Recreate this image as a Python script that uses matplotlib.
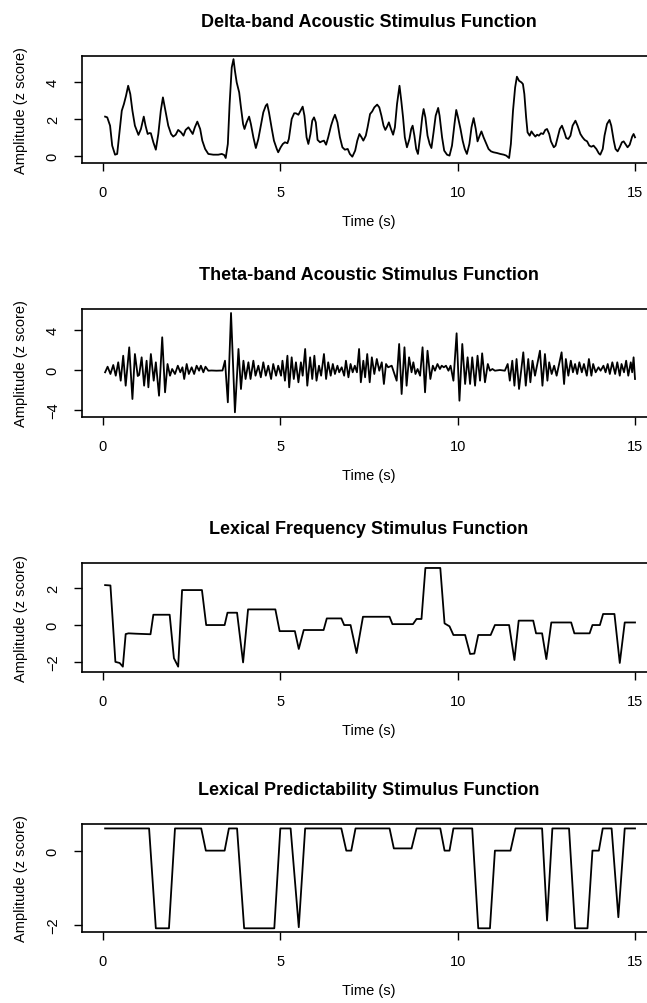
import numpy as np
import matplotlib
matplotlib.use("Agg")
import matplotlib.pyplot as plt

plt.rcParams['font.family'] = ['Liberation Sans', 'DejaVu Sans']

# values (time in s, amplitude in z score)
delta_pts = [(0.06, 2.13), (0.12, 2.09), (0.20, 1.64), (0.26, 0.56), (0.34, 0.07), (0.40, 0.11),
             (0.45, 1.01), (0.53, 2.45), (0.59, 2.81), (0.65, 3.26), (0.71, 3.80), (0.77, 3.35),
             (0.83, 2.45), (0.90, 1.64), (1.00, 1.14), (1.07, 1.46), (1.15, 2.13), (1.20, 1.64),
             (1.26, 1.19), (1.31, 1.24), (1.35, 1.23), (1.42, 0.74), (1.49, 0.34), (1.56, 1.19),
             (1.63, 2.45), (1.69, 3.17), (1.77, 2.36), (1.84, 1.64), (1.92, 1.19), (1.98, 1.05),
             (2.05, 1.15), (2.12, 1.41), (2.20, 1.28), (2.27, 1.10), (2.33, 1.41), (2.41, 1.55),
             (2.47, 1.37), (2.53, 1.19), (2.59, 1.55), (2.66, 1.86), (2.74, 1.46), (2.80, 0.83),
             (2.88, 0.38), (2.97, 0.11), (3.11, 0.07), (3.25, 0.07), (3.35, 0.11), (3.42, 0.05),
             (3.46, -0.11), (3.52, 0.65), (3.57, 2.81), (3.63, 4.79), (3.68, 5.24), (3.72, 4.61),
             (3.77, 3.98), (3.84, 3.44), (3.89, 2.63), (3.95, 1.73), (3.99, 1.46), (4.05, 1.82),
             (4.12, 2.13), (4.17, 1.73), (4.24, 1.01), (4.31, 0.43), (4.38, 0.92), (4.46, 1.73),
             (4.52, 2.36), (4.59, 2.72), (4.63, 2.81), (4.68, 2.36), (4.76, 1.46), (4.82, 0.83),
             (4.90, 0.38), (4.94, 0.20), (5.01, 0.47), (5.07, 0.65), (5.13, 0.74), (5.20, 0.69),
             (5.24, 0.92), (5.32, 2.00), (5.39, 2.31), (5.44, 2.31), (5.51, 2.23), (5.57, 2.45),
             (5.63, 2.67), (5.68, 2.18), (5.74, 1.01), (5.79, 0.65), (5.85, 1.19), (5.90, 1.91),
             (5.95, 2.09), (6.00, 1.82), (6.05, 0.87), (6.12, 0.74), (6.17, 0.79), (6.23, 0.83),
             (6.29, 0.61), (6.35, 1.01), (6.43, 1.64), (6.49, 2.00), (6.54, 2.23), (6.61, 1.82),
             (6.68, 1.01), (6.75, 0.47), (6.82, 0.34), (6.90, 0.38), (6.96, 0.11), (7.03, -0.04),
             (7.11, 0.29), (7.17, 0.83), (7.23, 1.19), (7.29, 1.01), (7.34, 0.83), (7.41, 1.10),
             (7.46, 1.55), (7.53, 2.27), (7.59, 2.41), (7.65, 2.63), (7.73, 2.78), (7.79, 2.63),
             (7.85, 2.18), (7.91, 1.64), (7.96, 1.41), (8.01, 1.59), (8.06, 1.82), (8.12, 1.46),
             (8.18, 1.15), (8.23, 1.55), (8.29, 2.81), (8.36, 3.80), (8.41, 2.99), (8.46, 2.09),
             (8.51, 1.01), (8.57, 0.47), (8.64, 0.92), (8.69, 1.46), (8.73, 1.64), (8.78, 1.10),
             (8.83, 0.38), (8.88, 0.11), (8.95, 1.19), (9.00, 2.09), (9.04, 2.54), (9.09, 2.09),
             (9.15, 1.10), (9.21, 0.65), (9.26, 0.43), (9.32, 1.28), (9.38, 2.18), (9.45, 2.60),
             (9.49, 2.18), (9.56, 1.01), (9.62, 0.29), (9.70, 0.07), (9.77, 0.02), (9.84, 0.56),
             (9.91, 1.73), (9.96, 2.49), (10.01, 2.09), (10.08, 1.46), (10.14, 0.83), (10.20, 0.38),
             (10.26, 0.11), (10.33, 0.65), (10.39, 1.55), (10.45, 2.05), (10.51, 1.46), (10.56, 0.79),
             (10.62, 1.10), (10.67, 1.33), (10.73, 1.01), (10.81, 0.65), (10.87, 0.38), (10.94, 0.25),
             (11.01, 0.20), (11.11, 0.16), (11.20, 0.11), (11.30, 0.07), (11.37, 0.02), (11.45, -0.11),
             (11.50, 0.65), (11.56, 2.45), (11.62, 3.71), (11.67, 4.29), (11.73, 4.07), (11.80, 3.98),
             (11.84, 3.89), (11.88, 3.35), (11.93, 2.09), (11.97, 1.28), (12.03, 1.10), (12.08, 1.33),
             (12.13, 1.19), (12.19, 1.05), (12.24, 1.15), (12.29, 1.10), (12.35, 1.23), (12.41, 1.19),
             (12.47, 1.41), (12.52, 1.46), (12.58, 1.19), (12.63, 0.79), (12.71, 0.47), (12.76, 0.56),
             (12.82, 1.01), (12.88, 1.46), (12.94, 1.64), (13.01, 1.28), (13.06, 0.97), (13.12, 0.92),
             (13.18, 1.10), (13.24, 1.64), (13.32, 1.91), (13.38, 1.64), (13.46, 1.19), (13.52, 1.01),
             (13.58, 0.87), (13.65, 0.79), (13.71, 0.56), (13.77, 0.50), (13.83, 0.56), (13.91, 0.38),
             (13.98, 0.14), (14.02, 0.07), (14.09, 0.38), (14.14, 1.10), (14.21, 1.73), (14.28, 1.95),
             (14.33, 1.64), (14.40, 0.83), (14.45, 0.38), (14.51, 0.25), (14.57, 0.47), (14.63, 0.74),
             (14.68, 0.79), (14.74, 0.61), (14.79, 0.47), (14.85, 0.61), (14.92, 1.05), (14.96, 1.19),
             (15.00, 1.01)]

theta_pts = [(0.06, -0.23), (0.13, 0.33), (0.21, -0.40), (0.29, 0.50), (0.36, -0.57), (0.43, 0.77),
             (0.50, -1.07), (0.57, 1.43), (0.64, -1.57), (0.74, 2.27), (0.83, -2.90), (0.90, 1.60),
             (0.98, -0.60), (1.02, -0.50), (1.09, 1.27), (1.16, -1.57), (1.23, 0.93), (1.28, -1.73),
             (1.35, 1.60), (1.43, -1.07), (1.49, 0.77), (1.58, -2.57), (1.67, 3.27), (1.75, -2.23),
             (1.82, 0.60), (1.89, -0.57), (1.95, 0.10), (2.03, -0.40), (2.11, 0.43), (2.18, -0.23),
             (2.24, 0.27), (2.29, -0.90), (2.36, 0.60), (2.42, -0.40), (2.50, 0.27), (2.57, -0.40),
             (2.64, 0.43), (2.71, -0.07), (2.76, 0.43), (2.83, -0.23), (2.89, 0.33), (2.97, -0.07),
             (3.06, -0.05), (3.20, -0.07), (3.37, -0.05), (3.44, 0.93), (3.52, -3.23), (3.61, 5.70),
             (3.72, -4.23), (3.82, 2.10), (3.89, -1.90), (3.96, 0.93), (4.02, -0.90), (4.10, 0.77),
             (4.16, -0.90), (4.24, 0.93), (4.30, -0.57), (4.38, 0.43), (4.45, -0.73), (4.52, 0.77),
             (4.59, -0.57), (4.66, 0.43), (4.74, -0.90), (4.80, 0.60), (4.88, -0.57), (4.94, 0.43),
             (5.02, -0.57), (5.06, 0.93), (5.13, -1.07), (5.20, 1.43), (5.25, -1.73), (5.32, 1.27),
             (5.38, -0.90), (5.44, 0.77), (5.51, -1.23), (5.58, 0.77), (5.63, -0.57), (5.70, 2.10),
             (5.76, -1.57), (5.84, 1.27), (5.90, -0.90), (5.96, 1.43), (6.02, -1.07), (6.09, 0.43),
             (6.15, -0.57), (6.23, 1.60), (6.29, -0.90), (6.35, 0.77), (6.42, -0.57), (6.48, 0.60),
             (6.54, -0.40), (6.61, 0.43), (6.66, -0.23), (6.73, 0.27), (6.80, -0.57), (6.85, 0.93),
             (6.92, -0.73), (6.98, 0.60), (7.04, -0.23), (7.10, 0.43), (7.16, -0.23), (7.22, 2.10),
             (7.27, -1.23), (7.34, 0.93), (7.39, -0.73), (7.45, 1.60), (7.52, -1.23), (7.58, 1.27),
             (7.65, -0.40), (7.72, 1.10), (7.79, -0.07), (7.86, 0.77), (7.92, -1.40), (7.98, 0.60),
             (8.04, 0.27), (8.14, 0.43), (8.28, -1.07), (8.35, 2.60), (8.42, -2.40), (8.50, 2.27),
             (8.56, -1.57), (8.63, 1.27), (8.70, -0.23), (8.75, 0.77), (8.81, -0.40), (8.87, 0.10),
             (8.94, -0.57), (9.01, 2.27), (9.08, -2.23), (9.15, 1.93), (9.23, -0.90), (9.30, 0.43),
             (9.36, -0.07), (9.43, 0.60), (9.50, 0.10), (9.55, 0.43), (9.61, 0.27), (9.67, 0.43),
             (9.74, -0.07), (9.80, 0.43), (9.88, -1.07), (9.97, 3.67), (10.05, -3.07), (10.13, 2.60),
             (10.21, -1.40), (10.28, 1.27), (10.35, -1.40), (10.41, 1.27), (10.49, -1.57), (10.56, 1.43),
             (10.63, -1.07), (10.69, 1.67), (10.77, -1.23), (10.85, 0.60), (10.91, -0.07), (10.98, 0.10),
             (11.05, -0.07), (11.19, 0.00), (11.33, -0.07), (11.41, 0.60), (11.47, -1.07), (11.54, 0.93),
             (11.60, -1.57), (11.66, 1.10), (11.73, -1.90), (11.85, 1.77), (11.92, -1.57), (11.99, 1.10),
             (12.05, -1.23), (12.11, 0.93), (12.18, -0.57), (12.32, 1.93), (12.39, -1.57), (12.46, 1.60),
             (12.53, -1.07), (12.58, 0.77), (12.65, -0.40), (12.72, 0.43), (12.79, -0.57), (12.93, 1.77),
             (13.00, -1.40), (13.05, 1.10), (13.12, -0.57), (13.19, 0.93), (13.25, -0.23), (13.31, 0.60),
             (13.37, -0.40), (13.43, 0.77), (13.50, -0.23), (13.56, 0.60), (13.64, -0.57), (13.70, 1.10),
             (13.77, -0.57), (13.82, 0.60), (13.89, -0.23), (13.97, 0.27), (14.03, -0.07), (14.11, 0.43),
             (14.17, -0.23), (14.23, 0.60), (14.29, -0.40), (14.36, 0.77), (14.44, -0.40), (14.50, 0.77),
             (14.57, -0.57), (14.62, 0.60), (14.69, -0.23), (14.75, 0.93), (14.81, -0.57), (14.88, 0.77),
             (14.92, -0.23), (14.96, 1.27), (15.00, -0.90)]

freq_pts = [(0.06, 2.17), (0.21, 2.15), (0.35, -2.00), (0.47, -2.06), (0.56, -2.26), (0.64, -0.49),
            (0.72, -0.45), (0.93, -0.47), (1.34, -0.50), (1.42, 0.56), (1.88, 0.56), (2.00, -1.80),
            (2.12, -2.26), (2.23, 1.90), (2.79, 1.90), (2.91, 0.00), (3.43, 0.00), (3.51, 0.67),
            (3.78, 0.67), (3.95, -2.03), (4.09, 0.85), (4.86, 0.85), (4.98, -0.33), (5.41, -0.33),
            (5.52, -1.30), (5.66, -0.27), (6.22, -0.27), (6.31, 0.36), (6.72, 0.36), (6.80, 0.00),
            (6.98, 0.00), (7.15, -1.52), (7.33, 0.45), (8.08, 0.45), (8.16, 0.05), (8.74, 0.05),
            (8.84, 0.33), (8.98, 0.33), (9.09, 3.10), (9.51, 3.10), (9.63, 0.09), (9.77, -0.07),
            (9.88, -0.54), (10.21, -0.54), (10.35, -1.57), (10.47, -1.55), (10.58, -0.54), (10.93, -0.54),
            (11.05, 0.00), (11.45, 0.00), (11.60, -1.90), (11.72, 0.24), (12.13, 0.24), (12.21, -0.45),
            (12.38, -0.45), (12.50, -1.85), (12.64, 0.14), (13.20, 0.14), (13.29, -0.45), (13.72, -0.45),
            (13.80, 0.00), (14.01, 0.00), (14.10, 0.60), (14.42, 0.60), (14.57, -2.06), (14.71, 0.14),
            (15.00, 0.14)]

pred_pts = [(0.06, 0.60), (1.30, 0.60), (1.49, -2.10), (1.86, -2.10), (2.03, 0.60), (2.77, 0.60),
            (2.90, 0.00), (3.43, 0.00), (3.55, 0.60), (3.78, 0.60), (3.98, -2.10), (4.83, -2.10),
            (5.00, 0.60), (5.29, 0.60), (5.52, -2.07), (5.70, 0.60), (6.72, 0.60), (6.86, 0.00),
            (7.00, 0.00), (7.12, 0.60), (8.08, 0.60), (8.20, 0.06), (8.70, 0.06), (8.84, 0.60),
            (9.51, 0.60), (9.63, 0.00), (9.77, 0.00), (9.88, 0.60), (10.41, 0.60), (10.58, -2.10),
            (10.91, -2.10), (11.05, 0.00), (11.49, 0.00), (11.63, 0.60), (12.38, 0.60), (12.52, -1.89),
            (12.67, 0.60), (13.14, 0.60), (13.31, -2.10), (13.66, -2.10), (13.80, 0.00), (13.98, 0.00),
            (14.09, 0.60), (14.34, 0.60), (14.53, -1.80), (14.71, 0.60), (15.00, 0.60)]

titles = ["Delta-band Acoustic Stimulus Function", "Theta-band Acoustic Stimulus Function",
          "Lexical Frequency Stimulus Function", "Lexical Predictability Stimulus Function"]
x_ticks = [0, 5, 10, 15]
y_ticks = [[0, 2, 4], [-4, 0, 4], [-2, 0, 2], [-2, 0]]
y_lims = [(-0.38, 5.41), (-4.7, 6.1), (-2.55, 3.37), (-2.2, 0.72)]

series = [np.array(delta_pts).T, np.array(theta_pts).T,
          np.array(freq_pts).T, np.array(pred_pts).T]

W, H = 647, 1004
fig = plt.figure(figsize=(W / 100, H / 100), dpi=100)

# box top/bottom of each panel in pixels (right edge runs past the picture)
boxes = [(57, 164), (310, 418), (564, 673), (825, 933)]
left_px, width_px = 81.7, 574.6

for i in range(4):
    top, bottom = boxes[i]
    ax = fig.add_axes([left_px / W, 1 - bottom / H, width_px / W, (bottom - top) / H])
    t, v = series[i]
    ax.plot(t, v, color='black', lw=1.3)
    ax.set_xlim(-0.6, 15.6)
    ax.set_ylim(*y_lims[i])
    ax.set_xticks(x_ticks)
    ax.set_yticks(y_ticks[i])
    ax.tick_params(length=5.8, width=1, pad=10, labelsize=10.5, colors='black')
    ax.tick_params(axis='y', labelrotation=90)
    for lab in ax.get_yticklabels():
        lab.set_va('center')
    for s in ax.spines.values():
        s.set_linewidth(1.2)
    ax.set_title(titles[i], fontsize=13, fontweight='bold', pad=21.5)
    ax.set_xlabel("Time (s)", fontsize=10.5, labelpad=11)
    ax.set_ylabel("Amplitude (z score)", fontsize=10.5, labelpad=13)

fig.savefig("out.png", dpi=100)
